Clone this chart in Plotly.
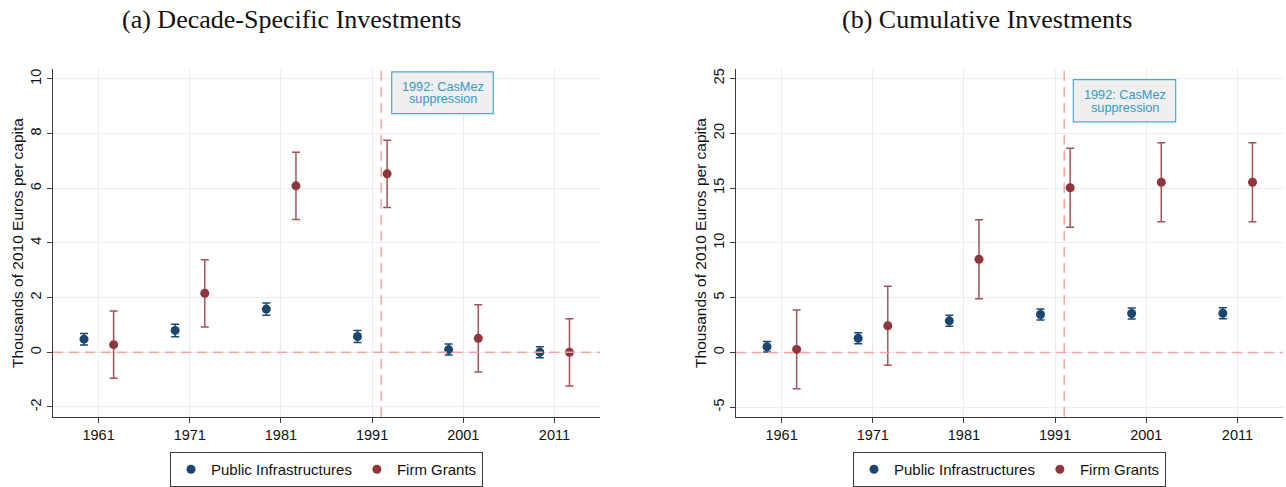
import plotly.graph_objects as go

# ---------------- data ----------------
decades = [1961, 1971, 1981, 1991, 2001, 2011]
tick_labels = ["1961", "1971", "1981", "1991", "2001", "2011"]

a_pub = [0.48, 0.80, 1.58, 0.58, 0.10, 0.00]
a_pub_ci = [0.21, 0.23, 0.22, 0.22, 0.20, 0.20]
a_firm = [0.28, 2.16, 6.09, 6.53, 0.51, 0.00]
a_firm_ci = [1.23, 1.23, 1.23, 1.23, 1.23, 1.23]

b_pub = [0.51, 1.29, 2.88, 3.46, 3.55, 3.57]
b_pub_ci = [0.48, 0.50, 0.50, 0.50, 0.50, 0.50]
b_firm = [0.27, 2.43, 8.50, 15.02, 15.53, 15.53]
b_firm_ci = [3.60, 3.60, 3.60, 3.60, 3.60, 3.60]

event_year = 1992
event_text = ["1992: CasMez", "suppression"]
series_names = ["Public Infrastructures", "Firm Grants"]
titles = ["(a) Decade-Specific Investments", "(b) Cumulative Investments"]
ytitle = "Thousands of 2010 Euros per capita"

# ---------------- style ----------------
W, H = 1286, 487
BLUE = "#1a476f"
RED = "#90353b"
RED_BAR = "rgba(144,53,59,0.85)"
GRID = "#e6eef1"
REF = "#f5a3a3"
BOXC = "#4fa6cf"
TXTC = "#3399c9"
off_pub, off_firm = -1.6, 1.65

def px_x(p):
    return p / W

def px_y(p):
    return 1 - p / H

fig = go.Figure()

panels = [
    dict(xa="x", ya="y", pub=a_pub, pubci=a_pub_ci, firm=a_firm, firmci=a_firm_ci, legend="legend"),
    dict(xa="x2", ya="y2", pub=b_pub, pubci=b_pub_ci, firm=b_firm, firmci=b_firm_ci, legend="legend2"),
]

for p in panels:
    fig.add_trace(go.Scatter(
        x=[d + off_pub for d in decades], y=p["pub"], mode="markers",
        name=series_names[0], xaxis=p["xa"], yaxis=p["ya"], legend=p["legend"],
        marker=dict(color=BLUE, size=9),
        error_y=dict(type="data", array=p["pubci"], color=BLUE, thickness=1.5, width=4),
    ))
    fig.add_trace(go.Scatter(
        x=[d + off_firm for d in decades], y=p["firm"], mode="markers",
        name=series_names[1], xaxis=p["xa"], yaxis=p["ya"], legend=p["legend"],
        marker=dict(color=RED, size=9),
        error_y=dict(type="data", array=p["firmci"], color=RED_BAR, thickness=1.5, width=4),
    ))

xdom1 = [px_x(53), px_x(600)]
xdom2 = [px_x(736), px_x(1283)]
ydom = [px_y(422), px_y(70)]

common_x = dict(
    range=[1956, 2016], tickvals=decades, ticktext=tick_labels,
    showgrid=True, gridcolor=GRID, gridwidth=1, zeroline=False,
    showline=True, linecolor="#3c3c3c", linewidth=1.3,
    ticks="outside", ticklen=5, tickcolor="#3c3c3c", tickwidth=1,
    tickfont=dict(family="Liberation Sans, Arial", size=14.5, color="#111"),
)
common_y = dict(
    showgrid=True, gridcolor=GRID, gridwidth=1, zeroline=False,
    showline=True, linecolor="#3c3c3c", linewidth=1.3,
    ticks="outside", ticklen=5, tickcolor="#3c3c3c", tickwidth=1,
    tickangle=-90,
    tickfont=dict(family="Liberation Sans, Arial", size=14.5, color="#111"),
    title=dict(text=ytitle, font=dict(family="Liberation Sans, Arial", size=15.5, color="#111"), standoff=0),
)

fig.update_layout(
    width=W, height=H,
    margin=dict(l=0, r=0, t=0, b=0),
    paper_bgcolor="white", plot_bgcolor="white",
    xaxis=dict(domain=xdom1, anchor="y", **common_x),
    yaxis=dict(domain=ydom, anchor="x", range=[-2.36, 10.36], tickvals=[-2, 0, 2, 4, 6, 8, 10],
               ticktext=["-2", "0", "2", "4", "6", "8", "10"], **common_y),
    xaxis2=dict(domain=xdom2, anchor="y2", **common_x),
    yaxis2=dict(domain=ydom, anchor="x2", range=[-5.88, 25.85], tickvals=[-5, 0, 5, 10, 15, 20, 25],
                ticktext=["-5", "0", "5", "10", "15", "20", "25"], **common_y),
    legend=dict(orientation="h", x=(xdom1[0] + xdom1[1]) / 2, xanchor="center", y=px_y(458), yanchor="top",
                bordercolor="#3c3c3c", borderwidth=1, bgcolor="white",
                font=dict(family="Liberation Sans, Arial", size=15, color="#111"),
                itemwidth=30, tracegroupgap=0),
    legend2=dict(orientation="h", x=(xdom2[0] + xdom2[1]) / 2, xanchor="center", y=px_y(458), yanchor="top",
                 bordercolor="#3c3c3c", borderwidth=1, bgcolor="white",
                 font=dict(family="Liberation Sans, Arial", size=15, color="#111"),
                 itemwidth=30, tracegroupgap=0),
    showlegend=True,
)

# reference lines
for xa, ya in [("x", "y"), ("x2", "y2")]:
    fig.add_shape(type="line", xref=f"{xa} domain", yref=ya, x0=0, x1=1, y0=0, y1=0,
                  line=dict(color=REF, width=1.5, dash="10px,6px"), layer="above")
    fig.add_shape(type="line", xref=xa, yref=f"{ya} domain", x0=event_year, x1=event_year, y0=0, y1=1,
                  line=dict(color=REF, width=1.5, dash="10px,6px"), layer="above")

# event boxes
boxes = [
    dict(x0=391.7, x1=493.3, y0=72.7, y1=115.0, l1=88.3, l2=100.7),
    dict(x0=1073.3, x1=1175.7, y0=80.7, y1=123.3, l1=96.0, l2=109.0),
]
for b in boxes:
    fig.add_shape(type="rect", xref="paper", yref="paper",
                  x0=px_x(b["x0"]), x1=px_x(b["x1"]), y0=px_y(b["y1"]), y1=px_y(b["y0"]),
                  fillcolor="#efefef", line=dict(color=BOXC, width=1.2), layer="above")
    cx = px_x((b["x0"] + b["x1"]) / 2)
    for txt, ly in zip(event_text, [b["l1"], b["l2"]]):
        fig.add_annotation(x=cx, y=px_y(ly), xref="paper", yref="paper", text=txt, showarrow=False,
                           xanchor="center", yanchor="middle",
                           font=dict(family="Liberation Sans, Arial", size=12.7, color=TXTC))

# panel titles
for t, cxp in zip(titles, [291, 987]):
    fig.add_annotation(x=px_x(cxp), y=px_y(20), xref="paper", yref="paper", text=t, showarrow=False,
                       xanchor="center", yanchor="middle",
                       font=dict(family="Liberation Serif, serif", size=26, color="#111"))

fig.write_html("out.html")
